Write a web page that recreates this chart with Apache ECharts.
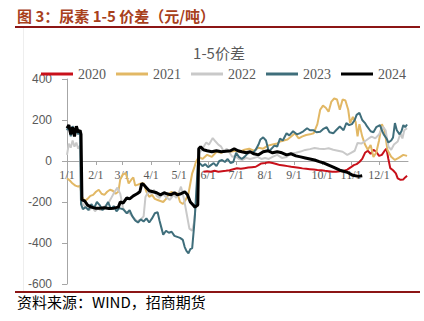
<!DOCTYPE html>
<html>
<head>
<meta charset="utf-8">
<script src="https://cdn.jsdelivr.net/npm/echarts@6/dist/echarts.min.js"></script>
<style>
html,body{margin:0;padding:0;background:#fff;}
#c{width:424px;height:321px;}
</style>
</head>
<body>
<div id="c"></div>
<script>
// ---- data (day of year, value) ----
const monthStarts = [0,31,59,90,120,151,181,212,243,273,304,334];
const monthLabels = ['1/1','2/1','3/1','4/1','5/1','6/1','7/1','8/1','9/1','10/1','11/1','12/1'];
const yTicks = [-600,-400,-200,0,200,400];
const seriesNames = ['2020','2021','2022','2023','2024'];

const s2020 = [[146,-52],[150,-50],[154,-52],[158,-48],[162,-52],[166,-50],[170,-48],[174,-45],[178,-40],[182,-35],[186,-38],[190,-35],[194,-32],[198,-30],[202,-28],[205,-20],[208,-12],[212,-10],[216,-6],[220,-10],[224,-15],[228,-20],[232,-22],[236,-25],[240,-28],[244,-30],[248,-33],[252,-36],[256,-38],[260,-40],[264,-42],[268,-44],[272,-45],[276,-48],[280,-50],[284,-52],[288,-52],[292,-50],[296,-48],[300,-42],[304,-30],[307,-20],[310,-15],[313,-5],[316,10],[319,40],[322,50],[325,35],[328,55],[331,45],[334,25],[337,30],[340,50],[342,60],[344,10],[346,-35],[349,-45],[352,-60],[354,-85],[357,-92],[360,-90],[362,-80],[364,-72]];

const s2021 = [[0,-85],[3,-95],[6,-110],[9,-120],[12,-125],[14,-120],[16,-175],[19,-195],[22,-185],[25,-170],[28,-165],[31,-150],[34,-140],[37,-160],[40,-165],[43,-150],[46,-140],[49,-145],[52,-160],[55,-150],[57,-90],[60,-65],[63,-60],[66,-110],[69,-90],[71,-80],[73,-120],[76,-115],[79,-110],[82,-108],[85,-150],[88,-175],[91,-165],[94,-185],[97,-190],[100,-195],[103,-200],[106,-185],[109,-160],[112,-150],[115,-165],[118,-155],[121,-200],[124,-210],[127,-190],[130,-160],[132,-110],[134,-60],[136,-35],[138,-5],[141,20],[145,10],[150,30],[155,20],[160,45],[165,40],[170,50],[175,45],[180,50],[185,45],[190,55],[195,60],[200,50],[205,65],[210,60],[215,75],[220,80],[225,85],[228,95],[232,100],[236,105],[240,120],[244,135],[248,110],[252,120],[256,127],[260,130],[264,135],[268,180],[271,250],[274,270],[277,260],[280,240],[283,290],[286,305],[289,300],[292,250],[295,300],[298,295],[301,250],[303,185],[306,215],[309,190],[311,120],[313,180],[316,120],[319,80],[322,55],[325,78],[328,20],[331,40],[334,100],[337,180],[340,150],[343,54],[347,21],[351,5],[355,15],[360,30],[364,25]];

const s2022 = [[0,30],[2,85],[4,65],[6,100],[8,70],[10,90],[12,60],[14,75],[15,-200],[18,-215],[21,-230],[24,-240],[27,-225],[30,-245],[33,-230],[36,-240],[39,-225],[42,-215],[45,-200],[48,-175],[51,-150],[54,-130],[57,-160],[60,-230],[63,-250],[67,-255],[71,-275],[75,-295],[79,-285],[82,-270],[84,-175],[87,-150],[90,-160],[93,-140],[96,-170],[99,-180],[102,-160],[106,-175],[110,-190],[114,-165],[117,-180],[120,-150],[122,-125],[125,-180],[128,-255],[131,-330],[134,-340],[136,-300],[138,-200],[140,-60],[142,40],[145,60],[149,90],[152,80],[156,112],[159,95],[162,80],[165,70],[168,45],[171,60],[174,40],[177,20],[180,25],[184,10],[188,5],[192,15],[196,10],[200,15],[204,20],[208,10],[212,15],[216,10],[220,20],[225,30],[230,15],[235,20],[240,39],[245,40],[250,46],[255,54],[260,58],[265,63],[270,60],[275,58],[280,62],[285,55],[290,50],[295,45],[300,30],[304,40],[308,50],[311,88],[315,85],[320,100],[323,110],[326,119],[330,110],[334,130],[338,168],[341,150],[344,70],[347,55],[350,80],[354,95],[357,135],[359,110],[361,150],[364,160]];

const s2023 = [[0,150],[2,175],[4,120],[6,170],[8,140],[10,160],[12,130],[14,150],[15,-210],[17,-235],[20,-225],[23,-240],[26,-210],[29,-230],[32,-200],[35,-215],[38,-240],[41,-225],[44,-200],[47,-235],[50,-220],[53,-245],[56,-230],[60,-235],[64,-255],[67,-240],[70,-270],[73,-290],[76,-300],[79,-285],[82,-295],[85,-280],[88,-300],[91,-280],[94,-255],[97,-250],[99,-290],[101,-325],[103,-360],[106,-340],[109,-350],[112,-345],[115,-365],[118,-370],[121,-375],[124,-385],[126,-420],[128,-440],[130,-450],[132,-430],[134,-425],[136,-320],[137,-260],[139,-100],[140,-20],[142,-10],[145,-25],[148,-15],[151,-30],[154,-20],[157,-10],[160,-25],[163,0],[166,5],[169,-5],[172,10],[175,-10],[178,-5],[181,40],[184,20],[187,10],[190,20],[193,35],[196,45],[199,40],[202,55],[205,80],[207,105],[210,115],[213,100],[216,45],[219,60],[222,75],[225,70],[228,110],[231,100],[235,135],[238,125],[242,145],[246,130],[249,135],[253,145],[257,160],[260,150],[264,150],[267,140],[271,143],[274,155],[278,165],[281,140],[285,135],[288,150],[292,168],[296,150],[299,185],[302,175],[305,180],[308,200],[310,225],[313,235],[316,200],[319,185],[321,170],[325,145],[328,140],[331,165],[335,175],[337,150],[339,130],[342,110],[344,90],[347,100],[349,115],[351,185],[353,150],[356,130],[358,145],[360,175],[362,165],[364,178]];

const s2024 = [[0,160],[2,175],[4,130],[6,165],[8,120],[10,170],[12,140],[14,150],[15,130],[16,-190],[19,-195],[22,-215],[26,-225],[30,-230],[35,-230],[40,-228],[45,-232],[50,-230],[55,-225],[57,-200],[60,-205],[64,-180],[67,-185],[71,-170],[75,-160],[78,-150],[80,-110],[82,-115],[85,-130],[88,-145],[92,-150],[96,-155],[100,-165],[104,-155],[107,-160],[111,-165],[115,-155],[118,-165],[122,-160],[126,-150],[129,-165],[132,-200],[135,-215],[137,-225],[140,-215],[141,60],[143,70],[146,55],[150,50],[155,45],[160,50],[165,45],[170,48],[175,50],[179,60],[183,50],[187,45],[192,40],[196,45],[200,35],[205,30],[210,45],[215,50],[220,40],[225,45],[230,40],[235,30],[240,35],[245,25],[250,20],[255,15],[260,10],[265,5],[270,-3],[275,-10],[280,-20],[285,-30],[292,-45],[300,-55],[306,-70],[312,-75],[316,-72]];

const colors = ['#C8101A','#E2B865','#C9C9C9','#3F6E7B','#000000'];
const widths = [2,2,2,2,3];
const allData = [s2020,s2021,s2022,s2023,s2024];

const chart = echarts.init(document.getElementById('c'), null, {renderer:'svg'});
const labelMap = {};
monthStarts.forEach((d,i)=>{labelMap[d]=monthLabels[i];});

chart.setOption({
  animation:false,
  backgroundColor:'#fff',
  grid:{left:67,top:79,width:341,height:205,containLabel:false},
  legend:{
    data:seriesNames,
    left:36, top:62,
    icon:'rect', itemWidth:32, itemHeight:3, itemGap:10,
    textStyle:{fontFamily:'Liberation Serif',fontSize:14,color:'#595959'}
  },
  xAxis:{
    type:'value', min:0, max:365, position:'bottom', offset:-123,
    splitLine:{show:false},
    axisLine:{show:true,onZero:false,lineStyle:{color:'#A6A6A6',width:1}},
    axisTick:{show:true,length:4,lineStyle:{color:'#A6A6A6'},customValues:monthStarts},
    axisLabel:{customValues:monthStarts,margin:8,fontFamily:'Liberation Serif',fontSize:12,color:'#595959',
      formatter:v=>labelMap[v]||''}
  },
  yAxis:{
    type:'value', min:yTicks[0], max:yTicks[yTicks.length-1], interval:200,
    splitLine:{show:false},
    axisLine:{show:true,lineStyle:{color:'#A6A6A6',width:1}},
    axisTick:{show:true,length:5,lineStyle:{color:'#A6A6A6'}},
    axisLabel:{margin:15,fontFamily:'Liberation Sans',fontSize:12,color:'#595959'}
  },
  series: seriesNames.map((n,i)=>({
    name:n, type:'line', data:allData[i], showSymbol:false, symbol:'none',
    color:colors[i],
    lineStyle:{color:colors[i],width:widths[i]}, z:2+i
  })),
  graphic:[
    {type:'text',left:17,top:8,style:{text:'图 3：尿素 1-5 价差（元/吨）',fontFamily:'Noto Sans CJK SC',fontWeight:'bold',fontSize:15,fill:'#A8401C'}},
    {type:'rect',shape:{x:15,y:26,width:405,height:2},style:{fill:'#8C1515'}},
    {type:'line',shape:{x1:23.5,y1:28,x2:23.5,y2:291},style:{stroke:'#EEEEEE',lineWidth:1}},
    {type:'text',x:219,y:52,style:{text:'1-5价差',fontFamily:'Noto Sans CJK SC',fontSize:15,fill:'#595959',align:'center',verticalAlign:'middle'}},
    {type:'rect',shape:{x:15,y:291,width:405,height:2},style:{fill:'#8C1515'}},
    {type:'text',left:17,top:294,style:{text:'资料来源：WIND，招商期货',fontFamily:'Noto Sans CJK SC',fontSize:15,fill:'#000'}}
  ]
});
</script>
</body>
</html>
